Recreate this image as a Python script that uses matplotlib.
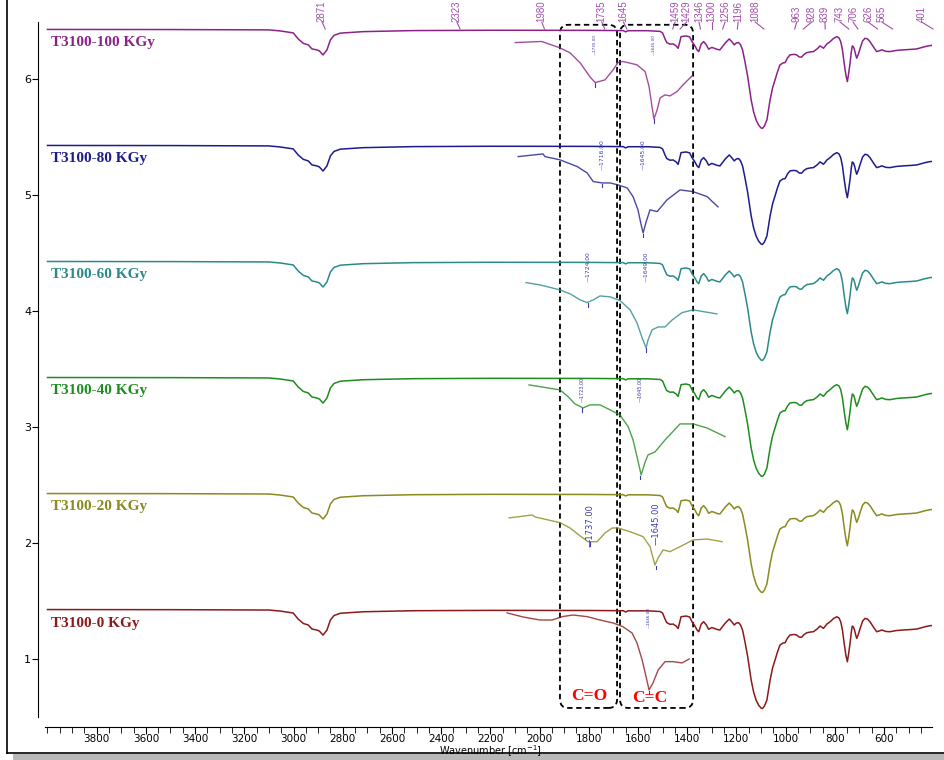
import matplotlib
matplotlib.use("Agg")
import matplotlib.pyplot as plt
from matplotlib.patches import FancyBboxPatch, Rectangle
from matplotlib.lines import Line2D
from matplotlib import transforms

# samples, bottom to top
samples = ["T3100-0 KGy", "T3100-20 KGy", "T3100-40 KGy",
           "T3100-60 KGy", "T3100-80 KGy", "T3100-100 KGy"]
colors = ["#8b1a1a", "#8a8a1e", "#1e8c1e", "#2a8a8a", "#1c1c8c", "#8b2289"]
offsets = [0, 1, 2, 3, 4, 5]

# full-range spectrum (same shape for every dose), wavenumber in cm-1
main_wn = [4000, 3500, 3100, 3054, 3001, 2981, 2960, 2940, 2925, 2906, 2895, 2880,
           2864, 2850, 2835, 2810, 2717, 2513, 2200, 1800, 1660, 1650, 1640, 1560,
           1510, 1500, 1490, 1483, 1470, 1457, 1445, 1437, 1430, 1425, 1405, 1390,
           1380, 1371, 1360, 1353, 1343, 1333, 1322, 1313, 1300, 1290, 1278, 1267,
           1245, 1229, 1218, 1209, 1200, 1191, 1183, 1175, 1165, 1154, 1140, 1130,
           1120, 1110, 1100, 1094, 1086, 1076, 1063, 1053, 1043, 1033, 1023, 1010,
           1002, 992, 982, 965, 955, 945, 935, 925, 914, 900, 887, 872, 860, 846,
           832, 819, 805, 792, 783, 776, 769, 762, 755, 749, 744, 738, 733, 729,
           724, 720, 715, 711, 704, 697, 687, 677, 667, 657, 643, 630, 620, 609,
           592, 576, 550, 521, 490, 467, 445, 433, 413, 405]
main_y = [1.426, 1.425, 1.422, 1.413, 1.396, 1.344, 1.306, 1.293, 1.258, 1.250, 1.241, 1.206,
          1.250, 1.336, 1.375, 1.394, 1.407, 1.416, 1.419, 1.418, 1.416, 1.405, 1.415, 1.415,
          1.409, 1.396, 1.344, 1.313, 1.299, 1.301, 1.284, 1.263, 1.319, 1.364, 1.370, 1.362,
          1.319, 1.293, 1.250, 1.235, 1.301, 1.321, 1.293, 1.256, 1.271, 1.264, 1.254, 1.250,
          1.310, 1.344, 1.319, 1.293, 1.310, 1.313, 1.293, 1.250, 1.146, 1.019, 0.819, 0.715,
          0.646, 0.603, 0.577, 0.573, 0.594, 0.646, 0.819, 0.922, 0.991, 1.060, 1.120, 1.138,
          1.140, 1.181, 1.207, 1.211, 1.207, 1.189, 1.187, 1.211, 1.226, 1.232, 1.235, 1.258, 1.284, 1.264,
          1.301, 1.321, 1.349, 1.364, 1.353, 1.321, 1.250, 1.135, 1.034, 0.976, 1.043, 1.135, 1.232, 1.284,
          1.275, 1.250, 1.206, 1.178, 1.215, 1.264, 1.327, 1.350, 1.344, 1.321, 1.275, 1.235, 1.241, 1.250,
          1.237, 1.235, 1.245, 1.250, 1.254, 1.258, 1.271, 1.278, 1.287, 1.288]

# expanded 2100-1250 cm-1 region shown under each spectrum
inset_wn = [
    [2132, 2067, 1998, 1949, 1908, 1864, 1807, 1754, 1701, 1661, 1624, 1604, 1583,
     1567, 1555, 1539, 1518, 1490, 1457, 1421, 1392],
    [2124, 2030, 2018, 1917, 1876, 1835, 1803, 1766, 1734, 1705, 1681, 1632, 1579,
     1551, 1531, 1518, 1498, 1470, 1429, 1376, 1319, 1258],
    [2043, 1998, 1917, 1884, 1856, 1823, 1795, 1754, 1713, 1673, 1640, 1620, 1604,
     1587, 1571, 1559, 1531, 1490, 1429, 1376, 1319, 1246],
    [2055, 1998, 1917, 1876, 1835, 1807, 1782, 1754, 1713, 1673, 1632, 1604, 1583,
     1567, 1559, 1543, 1518, 1490, 1461, 1421, 1376, 1335, 1279],
    [2087, 1986, 1978, 1917, 1847, 1807, 1782, 1746, 1713, 1681, 1644, 1620, 1600,
     1587, 1579, 1567, 1551, 1522, 1482, 1429, 1376, 1319, 1275],
    [2099, 1991, 1917, 1876, 1835, 1795, 1774, 1734, 1701, 1681, 1661, 1604, 1571,
     1555, 1543, 1535, 1522, 1510, 1490, 1470, 1441, 1417, 1380],
]
inset_y = [
    [1.397, 1.362, 1.336, 1.336, 1.365, 1.379, 1.365, 1.336, 1.310, 1.278, 1.224, 1.138, 0.991,
     0.847, 0.733, 0.793, 0.905, 0.977, 0.977, 0.966, 1.000],
    [1.216, 1.241, 1.224, 1.175, 1.129, 1.060, 1.011, 1.011, 1.086, 1.129, 1.129, 1.097, 1.054,
     0.968, 0.810, 0.871, 0.940, 0.925, 0.968, 1.026, 1.034, 1.011],
    [1.362, 1.347, 1.319, 1.261, 1.198, 1.164, 1.190, 1.190, 1.147, 1.103, 1.003, 0.888, 0.744,
     0.586, 0.698, 0.759, 0.784, 0.888, 1.026, 1.026, 0.991, 0.916],
    [1.244, 1.224, 1.181, 1.147, 1.095, 1.072, 1.095, 1.129, 1.121, 1.089, 1.009, 0.897, 0.767,
     0.681, 0.750, 0.836, 0.862, 0.862, 0.922, 0.985, 1.009, 0.994, 0.974],
    [1.330, 1.353, 1.330, 1.302, 1.244, 1.190, 1.115, 1.103, 1.103, 1.086, 1.060, 0.985, 0.871,
     0.741, 0.672, 0.767, 0.871, 0.856, 0.957, 1.043, 1.028, 0.985, 0.897],
    [1.313, 1.322, 1.267, 1.224, 1.138, 1.017, 0.968, 0.991, 1.078, 1.141, 1.150, 1.121, 1.063,
     0.934, 0.761, 0.655, 0.733, 0.836, 0.862, 0.853, 0.891, 0.948, 1.026],
]

# picked peaks in the expanded region: label text and where it sits
pick_labels = [["1646.00"], ["1737.00", "1645.00"], ["1723.00", "1645.00"],
               ["1724.00", "1649.00"], ["1716.00", "1645.00"], ["1735.00", "1645.00"]]
pick_wn = [[1555], [1795, 1527], [1827, 1591], [1803, 1567], [1746, 1579], [1774, 1535]]

# band labels above the top spectrum
band_wn = [2871, 2323, 1980, 1735, 1645, 1459, 1429, 1346, 1300, 1256, 1196, 1088,
           963, 928, 839, 743, 706, 626, 565, 401]
band_text_at = [2884, 2336, 1991, 1747, 1659, 1449, 1402, 1352, 1300, 1246, 1193, 1124,
                955, 894, 840, 779, 726, 665, 609, 447]

fig = plt.figure(figsize=(9.44, 7.6), dpi=100)
ax = fig.add_axes([45 / 944, 1 - 717 / 760, 887 / 944, 695 / 760])

for i in range(len(samples)):
    off = offsets[i]
    ax.plot(main_wn, [v + off for v in main_y], color=colors[i], lw=1.1)
    ax.plot(inset_wn[i], [v + off for v in inset_y[i]], color=colors[i], lw=1.0, alpha=0.8)
    ax.text(3985, off + 1.31, samples[i], color=colors[i], fontsize=11,
            fontweight="bold", family="Liberation Serif", va="center", ha="left")

# peak pick markers
pick_size = [3, 6, 3.5, 4.3, 4.3, 3]
pick_base = [[1.267], [0.966, 0.983], [1.216, 1.216], [1.25, 1.25], [1.216, 1.216], [1.207, 1.207]]
for i in range(len(samples)):
    for lab, w, b in zip(pick_labels[i], pick_wn[i], pick_base[i]):
        ax.text(w, offsets[i] + b, "\u2014" + lab, rotation=90, ha="center", va="bottom",
                fontsize=pick_size[i], color="#3b3bb0")
        # small tick just under the curve at the picked position
        k = min(range(len(inset_wn[i])), key=lambda j: abs(inset_wn[i][j] - w))
        yv = inset_y[i][k] + offsets[i]
        ax.plot([w, w], [yv - 0.005, yv - 0.035], color="#3b3bb0", lw=0.8)

# band labels with leaders, drawn above the plotting area
top = transforms.blended_transform_factory(ax.transData, fig.transFigure)
for w, t in zip(band_wn, band_text_at):
    ax.text(t, 1 - 22 / 760, str(w), rotation=90, ha="center", va="bottom",
            fontsize=7, family="Liberation Sans", color="#a050a8",
            transform=top, clip_on=False)
    ax.add_line(Line2D([t, w], [1 - 22 / 760, 1 - 29 / 760], color="#a050a8", lw=0.8,
                       transform=top, clip_on=False))

# dashed regions for C=O and C=C
asp = (1 / 116) / 4.0634
for x0, x1 in [(1917, 1685), (1673, 1376)]:
    box = FancyBboxPatch((x1, 0.578), x0 - x1, 6.466 - 0.578,
                         boxstyle="round,pad=0,rounding_size=34", mutation_aspect=asp,
                         fill=False, ec="black", lw=1.3, ls=(0, (3, 2)), clip_on=False)
    ax.add_patch(box)
ax.text(1799, 0.681, "C=O", color="red", fontsize=12.5, fontweight="bold",
        family="Liberation Serif", ha="center", va="center")
ax.text(1551, 0.664, "C=C", color="red", fontsize=12.5, fontweight="bold",
        family="Liberation Serif", ha="center", va="center")

ax.set_xlim(4010, 405)
ax.set_ylim(0.5, 6.49)
ax.spines["top"].set_visible(False)
ax.spines["right"].set_visible(False)
ax.spines["left"].set_position(("outward", 5))
ax.spines["bottom"].set_position(("outward", 7))
ax.set_xticks(range(600, 3801, 200))
ax.set_xticks(range(450, 4001, 50), minor=True)
ax.set_yticks([1, 2, 3, 4, 5, 6])
ax.tick_params(axis="x", which="major", length=5, labelsize=7.5, pad=0)
ax.tick_params(axis="x", which="minor", length=4)
ax.tick_params(axis="y", length=4, labelsize=8, pad=1)

fig.text(490 / 944, 1 - 751 / 760, "Wavenumber [cm$^{-1}$]", fontsize=7,
         ha="center", va="center")

# outer frame with a grey shadow
fig.add_artist(Rectangle((13 / 944, 0), 1, 6 / 760, transform=fig.transFigure,
                         color="#b8b8b8", lw=0))
fig.add_artist(Line2D([7 / 944, 7 / 944], [1, 1 - 753 / 760], color="black", lw=1.2,
                      transform=fig.transFigure))
fig.add_artist(Line2D([7 / 944, 1], [1 - 753 / 760, 1 - 753 / 760], color="black", lw=1.2,
                      transform=fig.transFigure))

fig.savefig("out.png", dpi=100)
plt.close(fig)
